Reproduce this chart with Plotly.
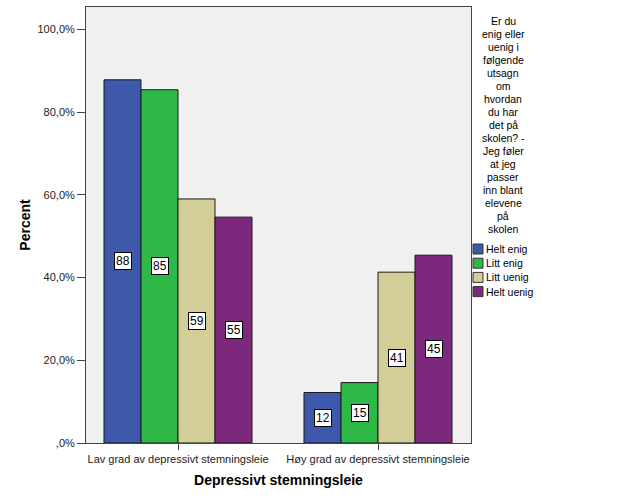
import plotly.graph_objects as go

categories = ["Lav grad av depressivt stemningsleie", "Høy grad av depressivt stemningsleie"]
series_names = ["Helt enig", "Litt enig", "Litt uenig", "Helt uenig"]
series_values = {
    "Helt enig": [87.8, 12.2],
    "Litt enig": [85.4, 14.6],
    "Litt uenig": [59.0, 41.3],
    "Helt uenig": [54.6, 45.4],
}
colors = ["#3E58AC", "#2EB848", "#D3CE97", "#7C287D"]
y_tickvals = [0, 20, 40, 60, 80, 100]
y_ticktext = [",0%", "20,0%", "40,0%", "60,0%", "80,0%", "100,0%"]
legend_title_lines = ["Er du", "enig eller", "uenig i", "følgende", "utsagn", "om", "hvordan",
                      "du har", "det på", "skolen? -", "Jeg føler", "at jeg", "passer",
                      "inn blant", "elevene", "på", "skolen"]

FONT = "Liberation Sans, Arial, sans-serif"
x_pos = list(range(len(categories)))
bargap = 0.26
n = len(series_names)
bw = (1 - bargap) / n

fig = go.Figure()
annotations = []
for i, name in enumerate(series_names):
    vals = series_values[name]
    fig.add_trace(go.Bar(
        x=x_pos, y=vals, name=name,
        marker=dict(color=colors[i], line=dict(color="#1a1a1a", width=1)),
        showlegend=False,
    ))
    for xi, v in zip(x_pos, vals):
        xc = xi + (i - (n - 1) / 2) * bw
        annotations.append(dict(
            x=xc, y=v / 2, xref="x", yref="y", text=str(round(v)), showarrow=False,
            font=dict(family=FONT, size=12, color="black"),
            bgcolor="white", bordercolor="black", borderwidth=1, borderpad=1,
        ))

# legend title, one line per annotation
for k, line in enumerate(legend_title_lines):
    annotations.append(dict(
        x=503, y=21 + k * 13.0, xref="paper", yref="paper", text=line,
        showarrow=False, xanchor="center", yanchor="middle",
        font=dict(family=FONT, size=10.5, color="black"),
    ))

shapes = []
# manual legend
for i, name in enumerate(series_names):
    yc = 249 + i * 14.2
    annotations.append(dict(
        x=484, y=yc, xref="paper", yref="paper", text=name, showarrow=False,
        xanchor="left", yanchor="middle", font=dict(family=FONT, size=10.5, color="black"),
    ))
    shapes.append(dict(type="rect", xref="paper", yref="paper",
                       x0=473, x1=483, y0=yc - 5, y1=yc + 5,
                       fillcolor=colors[i], line=dict(color="#333", width=1)))

W, H = 629, 504
L, R, T, B = 86, 158, 7, 61
pw, ph = W - L - R, H - T - B
# convert pixel coords for paper refs
for a in annotations:
    if a["xref"] == "paper":
        a["x"] = (a["x"] - L) / pw
        a["y"] = 1 - (a["y"] - T) / ph
for s in shapes:
    s["x0"] = (s["x0"] - L) / pw
    s["x1"] = (s["x1"] - L) / pw
    y0, y1 = s["y0"], s["y1"]
    s["y0"] = 1 - (y1 - T) / ph
    s["y1"] = 1 - (y0 - T) / ph

fig.update_layout(
    width=W, height=H,
    margin=dict(l=L, r=R, t=T, b=B),
    paper_bgcolor="white", plot_bgcolor="#F0F0F0",
    barmode="group", bargap=bargap, bargroupgap=0,
    font=dict(family=FONT, size=11, color="#222"),
    annotations=annotations, shapes=shapes,
    xaxis=dict(
        range=[-0.46, 1.465], tickvals=x_pos, ticktext=categories,
        showline=True, linecolor="#444", linewidth=1, mirror=True,
        ticks="outside", ticklen=6, tickcolor="#444", showgrid=False, zeroline=False,
        tickfont=dict(family=FONT, size=11, color="#222"),
        title=dict(text="<b>Depressivt stemningsleie</b>", standoff=10,
                   font=dict(family=FONT, size=14, color="black")),
    ),
    yaxis=dict(
        range=[0, 105.4], tickvals=y_tickvals, ticktext=y_ticktext,
        showline=True, linecolor="#444", linewidth=1, mirror=True,
        ticks="outside", ticklen=8, tickcolor="#444", showgrid=False, zeroline=False,
        tickfont=dict(family=FONT, size=11, color="#222"),
        title=dict(text="<b>Percent</b>", standoff=3,
                   font=dict(family=FONT, size=14, color="black")),
    ),
)

fig.write_html("out.html")
